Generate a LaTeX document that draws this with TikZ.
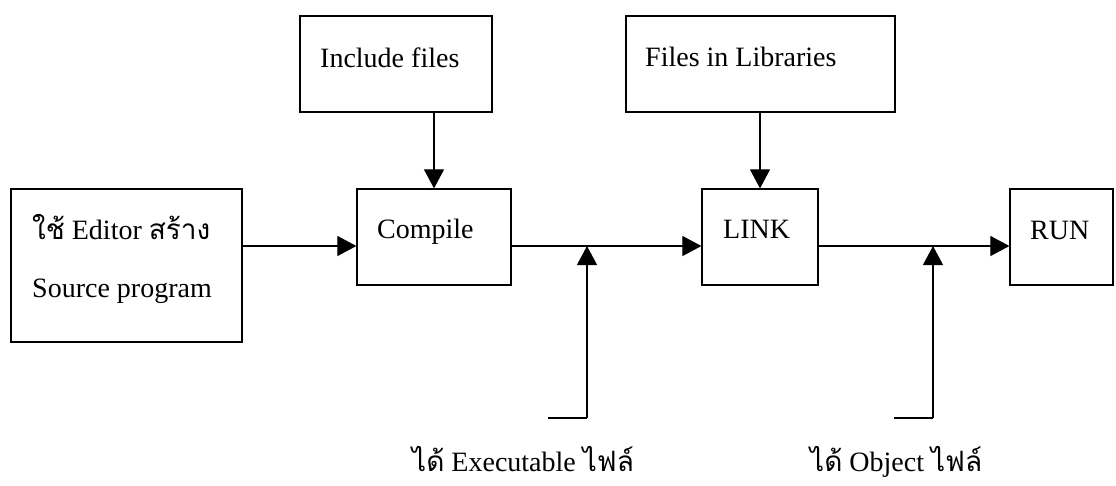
\documentclass[tikz,border=0pt]{standalone}
\usepackage{fontspec}
\setmainfont{Liberation Serif}
\newfontfamily\thaifont[Script=Thai]{Loma}
\newcommand{\thtxt}[1]{{\thaifont #1}}
\usetikzlibrary{arrows.meta}
\tikzset{
  box/.style={draw, line width=1.2pt, rectangle, inner sep=0pt},
  lbl/.style={anchor=base west, inner sep=0pt, font=\fontsize{28}{32}\selectfont},
  conn/.style={line width=1.1pt, -{Triangle[length=19pt,width=20pt]}},
  plain/.style={line width=1.1pt},
}
\begin{document}
\begin{tikzpicture}[x=1pt,y=-1pt]
\useasboundingbox (0,0) rectangle (1116,485);
% boxes
\node[box, minimum width=231pt, minimum height=153pt] (src) at (126.5,265.5) {};
\node[box, minimum width=192pt, minimum height=96pt] (inc) at (396,64) {};
\node[box, minimum width=269pt, minimum height=96pt] (lib) at (760.5,64) {};
\node[box, minimum width=154pt, minimum height=96pt] (comp) at (434,237) {};
\node[box, minimum width=116pt, minimum height=96pt] (link) at (760,237) {};
\node[box, minimum width=103pt, minimum height=96pt] (run) at (1061.5,237) {};
% texts
\node[lbl] (tinc) at (320,67) {Include files};
\node[lbl] (tlib) at (645,66) {Files in Libraries};
\node[lbl] (tcomp) at (377,238) {Compile};
\node[lbl] (tlink) at (723,238) {LINK};
\node[lbl] (trun) at (1030,239) {RUN};
\node[lbl] (tsrc1) at (32,239) {\thtxt{ใช้} Editor \thtxt{สร้าง}};
\node[lbl] (tsrc2) at (32,297) {Source program};
\node[lbl] (texe) at (412,471) {\thtxt{ได้} Executable \thtxt{ไฟล์}};
\node[lbl] (tobj) at (810,471) {\thtxt{ได้} Object \thtxt{ไฟล์}};
% coordinates
\coordinate (j1) at (587,246);
\coordinate (j2) at (933,246);
\coordinate (b1) at (587,418);
\coordinate (b2) at (933,418);
\coordinate (e1) at (548,418);
\coordinate (e2) at (894,418);
% connectors
\draw[conn] (src.east |- j1) -- (comp.west |- j1);
\draw[conn] (comp.east |- j1) -- (link.west |- j1);
\draw[conn] (link.east |- j2) -- (run.west |- j2);
\draw[conn] (inc.south -| comp) -- (comp.north);
\draw[conn] (lib.south -| link) -- (link.north);
\draw[plain] (e1) -- (b1);
\draw[conn] (b1) -- (j1);
\draw[plain] (e2) -- (b2);
\draw[conn] (b2) -- (j2);
\end{tikzpicture}
\end{document}
